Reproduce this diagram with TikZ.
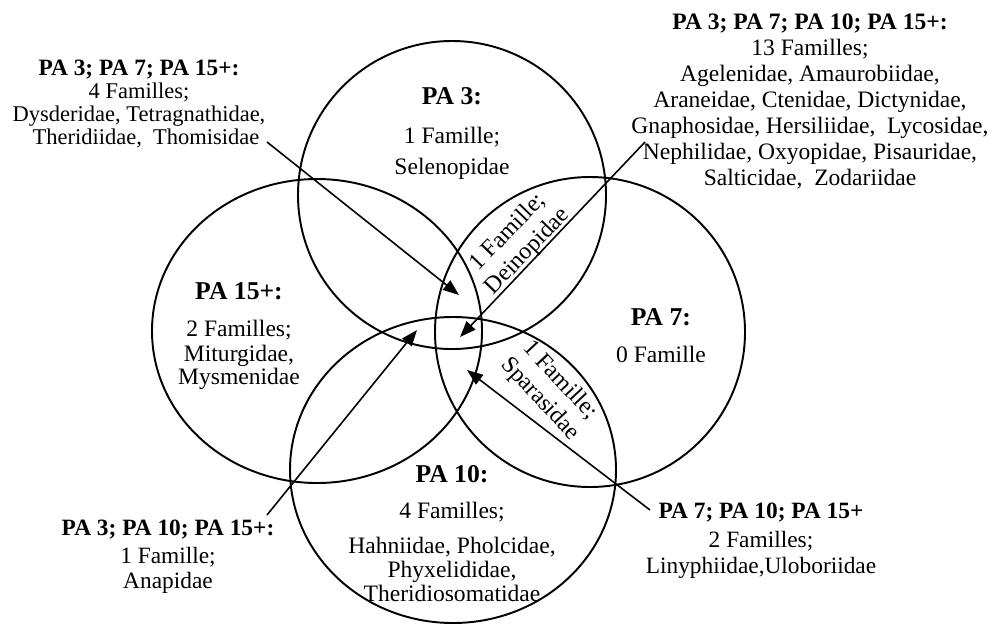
\documentclass[tikz,border=0pt]{standalone}
\usepackage{fontspec}
\setmainfont{Liberation Serif}
\usetikzlibrary{arrows.meta}

\begin{document}
\begin{tikzpicture}[x=0.2mm, y=-0.2mm,
    ring/.style={line width=1.1pt},
    ptr/.style={line width=0.9pt, -{Triangle[length=3.2mm,width=2.4mm]}},
    inside/.style={align=center, inner sep=0pt, anchor=north, font=\fontsize{13.4}{13.4}\selectfont},
    outside/.style={align=center, inner sep=0pt, anchor=north, font=\fontsize{13.3}{14.8}\selectfont},
    lens/.style={align=center, inner sep=0pt, font=\fontsize{13.6}{15.5}\selectfont}
]
    \useasboundingbox (0,0) rectangle (990,624);

    % the four sites
    \draw[ring] (452,195) circle[radius=154];
    \draw[ring] (317,331) ellipse[x radius=165, y radius=152];
    \draw[ring] (590,332) circle[radius=155];
    \draw[ring] (453,470) ellipse[x radius=163, y radius=153];

    % inside the circles
    \node[inside] (pa3) at (452,87) {{\bfseries\fontsize{14.6}{14.6}\selectfont PA 3:}\\[8.8pt] 1 Famille;\\[4.2pt] Selenopidae};
    \node[inside] (pa15) at (239,282) {{\bfseries\fontsize{14.6}{14.6}\selectfont PA 15+:}\\[7.7pt] 2 Familles;\\[0.8pt] Miturgidae,\\ Mysmenidae};
    \node[inside] (pa7) at (661,308) {{\bfseries\fontsize{14.6}{14.6}\selectfont PA 7:}\\[7.7pt] 0 Famille};
    \node[inside] (pa10) at (452,465) {{\bfseries\fontsize{14.6}{14.6}\selectfont PA 10:}\\[7.1pt] 4 Familles;\\[6.5pt] Hahniidae, Pholcidae,\\[0.3pt] Phyxelididae,\\ Theridiosomatidae};

    % the two lenses
    \node[lens, rotate=46] (deino) at (518,242) {1 Famille;\\ Deinopidae};
    \node[lens, rotate=-47] (spara) at (550,390) {1 Famille;\\ Sparasidae};

    % outside blocks
    \node[outside, font=\fontsize{12.8}{13}\selectfont] (three) at (139,60) {\textbf{\fontsize{13.3}{13.3}\selectfont PA 3; PA 7; PA 15+:}\\ 4 Familles;\\ Dysderidae, Tetragnathidae,\\ \hspace*{8pt}Theridiidae,\ \ Thomisidae};
    \node[outside, font=\fontsize{13.4}{14.8}\selectfont] (all) at (810,13) {\textbf{PA 3; PA 7; PA 10; PA 15+:}\\ 13 Familles;\\ Agelenidae, Amaurobiidae,\\ Araneidae, Ctenidae, Dictynidae,\\ Gnaphosidae, Hersiliidae,\ \ Lycosidae,\\ Nephilidae,\ Oxyopidae, Pisauridae,\\ Salticidae,\ \ Zodariidae};
    \node[outside] (anap) at (168,520) {\textbf{PA 3; PA 10; PA 15+:}\\[1.1pt] 1 Famille;\\[-0.6pt] Anapidae};
    \node[outside] (liny) at (761,503) {\textbf{PA 7; PA 10; PA 15+}\\[1.7pt] 2 Familles;\\ Linyphiidae,Uloboriidae};

    % arrow ends
    \coordinate (s1) at (267,142);
    \coordinate (t1) at (459,295);
    \coordinate (s2) at (645,142);
    \coordinate (t2) at (460,337);
    \coordinate (s3) at (267,515);
    \coordinate (t3) at (417,330);
    \coordinate (s4) at (650,510);
    \coordinate (t4) at (467,370);

    \draw[ptr] (s1) -- (t1);
    \draw[ptr] (s2) -- (t2);
    \draw[ptr] (s3) -- (t3);
    \draw[ptr] (s4) -- (t4);
\end{tikzpicture}
\end{document}
